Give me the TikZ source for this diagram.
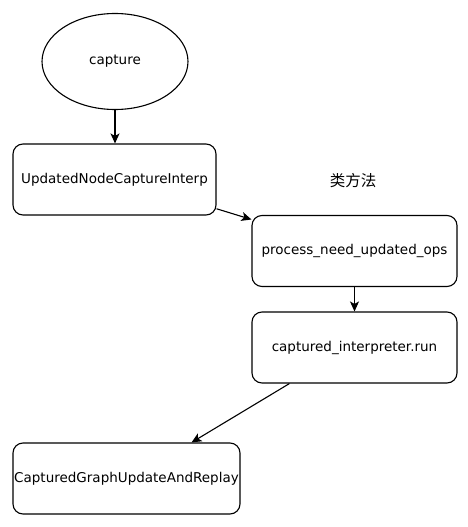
\documentclass[tikz,border=0pt]{standalone}
\usepackage{fontspec}
\setmainfont{DejaVu Sans}
\newfontfamily\cjk{Noto Sans CJK SC}
\usetikzlibrary{arrows.meta,shapes.geometric}
\begin{document}
\begin{tikzpicture}[x=1pt,y=-1pt,
  txt/.style={font=\fontsize{13.5}{16}\selectfont},
  box/.style={draw,line width=1.1pt,rounded corners=10pt,minimum width=#1,minimum height=71pt,inner sep=0pt,txt},
  conn/.style={line width=1.1pt,-{Stealth[length=10pt,width=9pt,inset=2.5pt]}}]
\useasboundingbox (0,0) rectangle (468,527);
\node[draw,ellipse,line width=1.1pt,minimum width=146pt,minimum height=96pt,inner sep=0pt,txt] (cap) at (115,61.5) {capture};
\node[box=203pt] (r1) at (114.5,179.5) {UpdatedNodeCaptureInterp};
\node[box=205pt] (r2) at (354.5,251) {process\_need\_updated\_ops};
\node[box=205pt] (r3) at (354.5,347.5) {captured\_interpreter.run};
\node[box=227pt] (r4) at (126.5,478.5) {CapturedGraphUpdateAndReplay};
\node[font=\cjk\fontsize{15.5}{18}\selectfont] (lbl) at (353,181) {类方法};
\draw[conn] (cap.south) -- (cap.south |- r1.north);
\draw[conn] (r1.-16.7) -- (r2.163.7);
\draw[conn] (r2.south) -- (r3.north);
\draw[conn] (r3.-151.2) -- (r4.29.2);
\end{tikzpicture}
\end{document}
